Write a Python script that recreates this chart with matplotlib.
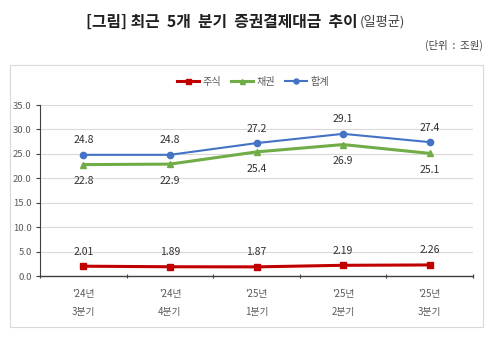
import matplotlib
matplotlib.use("Agg")
import matplotlib.pyplot as plt
from matplotlib.patches import Rectangle

plt.rcParams['font.family'] = ['Noto Sans CJK KR', 'DejaVu Sans']

quarters = ["'24년\n3분기", "'24년\n4분기", "'25년\n1분기", "'25년\n2분기", "'25년\n3분기"]
stock = [2.01, 1.89, 1.87, 2.19, 2.26]
bond = [22.8, 22.9, 25.4, 26.9, 25.1]
total = [24.8, 24.8, 27.2, 29.1, 27.4]
yticks = [0, 5, 10, 15, 20, 25, 30, 35]

c_stock = '#C00000'
c_bond = '#70AD47'
c_total = '#4472C4'
txt = '#303030'
tick_c = '#595959'

fig = plt.figure(figsize=(5.0, 3.46), dpi=100)

# frame around the chart area
fig.patches.append(Rectangle((10 / 500, 1 - 327 / 346), 473 / 500, 262 / 346,
                             transform=fig.transFigure, fill=False,
                             edgecolor='#D9D9D9', linewidth=0.8))

fig.text(0.714, 1 - 22 / 346, "[그림] 최근  5개  분기  증권결제대금  추이",
         ha='right', va='center', fontsize=11.4, fontweight='bold', color='#202020')
fig.text(0.72, 1 - 22 / 346, "(일평균)", ha='left', va='center',
         fontsize=9.5, color='#404040')
fig.text(0.966, 1 - 45 / 346, "(단위  :  조원)", ha='right', va='center',
         fontsize=7.5, color='#404040')

ax = fig.add_axes([40 / 500, 1 - 276 / 346, 433 / 500, 171 / 346])
x = list(range(len(quarters)))

ax.plot(x, stock, color=c_stock, marker='s', markersize=4.5, linewidth=2.2, label='주식')
ax.plot(x, bond, color=c_bond, marker='^', markersize=4.5, linewidth=2.2, label='채권')
ax.plot(x, total, color=c_total, marker='o', markersize=4.5, linewidth=1.5, label='합계')

for xi, v in zip(x, total):
    ax.annotate(f"{v:.1f}", (xi, v), xytext=(0, 10.5), textcoords='offset points',
                ha='center', va='center', fontsize=7.5, color=txt)
for xi, v in zip(x, bond):
    ax.annotate(f"{v:.1f}", (xi, v), xytext=(0, -12), textcoords='offset points',
                ha='center', va='center', fontsize=7.5, color=txt)
for xi, v in zip(x, stock):
    ax.annotate(f"{v:.2f}", (xi, v), xytext=(0, 10.5), textcoords='offset points',
                ha='center', va='center', fontsize=7.5, color=txt)

ax.set_xlim(-0.5, len(quarters) - 0.5)
ax.set_ylim(0, 35)
ax.set_yticks(yticks)
ax.set_yticklabels([f"{t:.1f}" for t in yticks])
ax.set_xticks([i - 0.5 for i in range(len(quarters) + 1)])
ax.set_xticklabels([])
ax.set_xticks(x, minor=True)
ax.set_xticklabels(quarters, minor=True)
ax.tick_params(axis='x', which='minor', length=0, pad=9, labelsize=7,
               labelcolor=tick_c)
ax.tick_params(axis='x', which='major', length=3, color='#404040', direction='inout')
ax.tick_params(axis='y', length=3, color='#404040', labelsize=6.8, labelcolor=tick_c, pad=3)
for lab in ax.get_xticklabels(minor=True):
    lab.set_linespacing(2.1)

ax.grid(axis='y', color='#D9D9D9', linewidth=0.8)
ax.set_axisbelow(True)
for s in ['top', 'right']:
    ax.spines[s].set_visible(False)
ax.spines['left'].set_color('#404040')
ax.spines['bottom'].set_color('#404040')
ax.spines['left'].set_linewidth(0.8)
ax.spines['bottom'].set_linewidth(1.0)

leg = ax.legend(loc='center', ncol=3, frameon=False, fontsize=7.3, handlelength=2.2,
                handletextpad=0.3, columnspacing=1.0, markerscale=0.8,
                bbox_to_anchor=((253 - 40) / 433, (276 - 82) / 171))
for t in leg.get_texts():
    t.set_color(tick_c)

fig.savefig("out.png", dpi=100)
